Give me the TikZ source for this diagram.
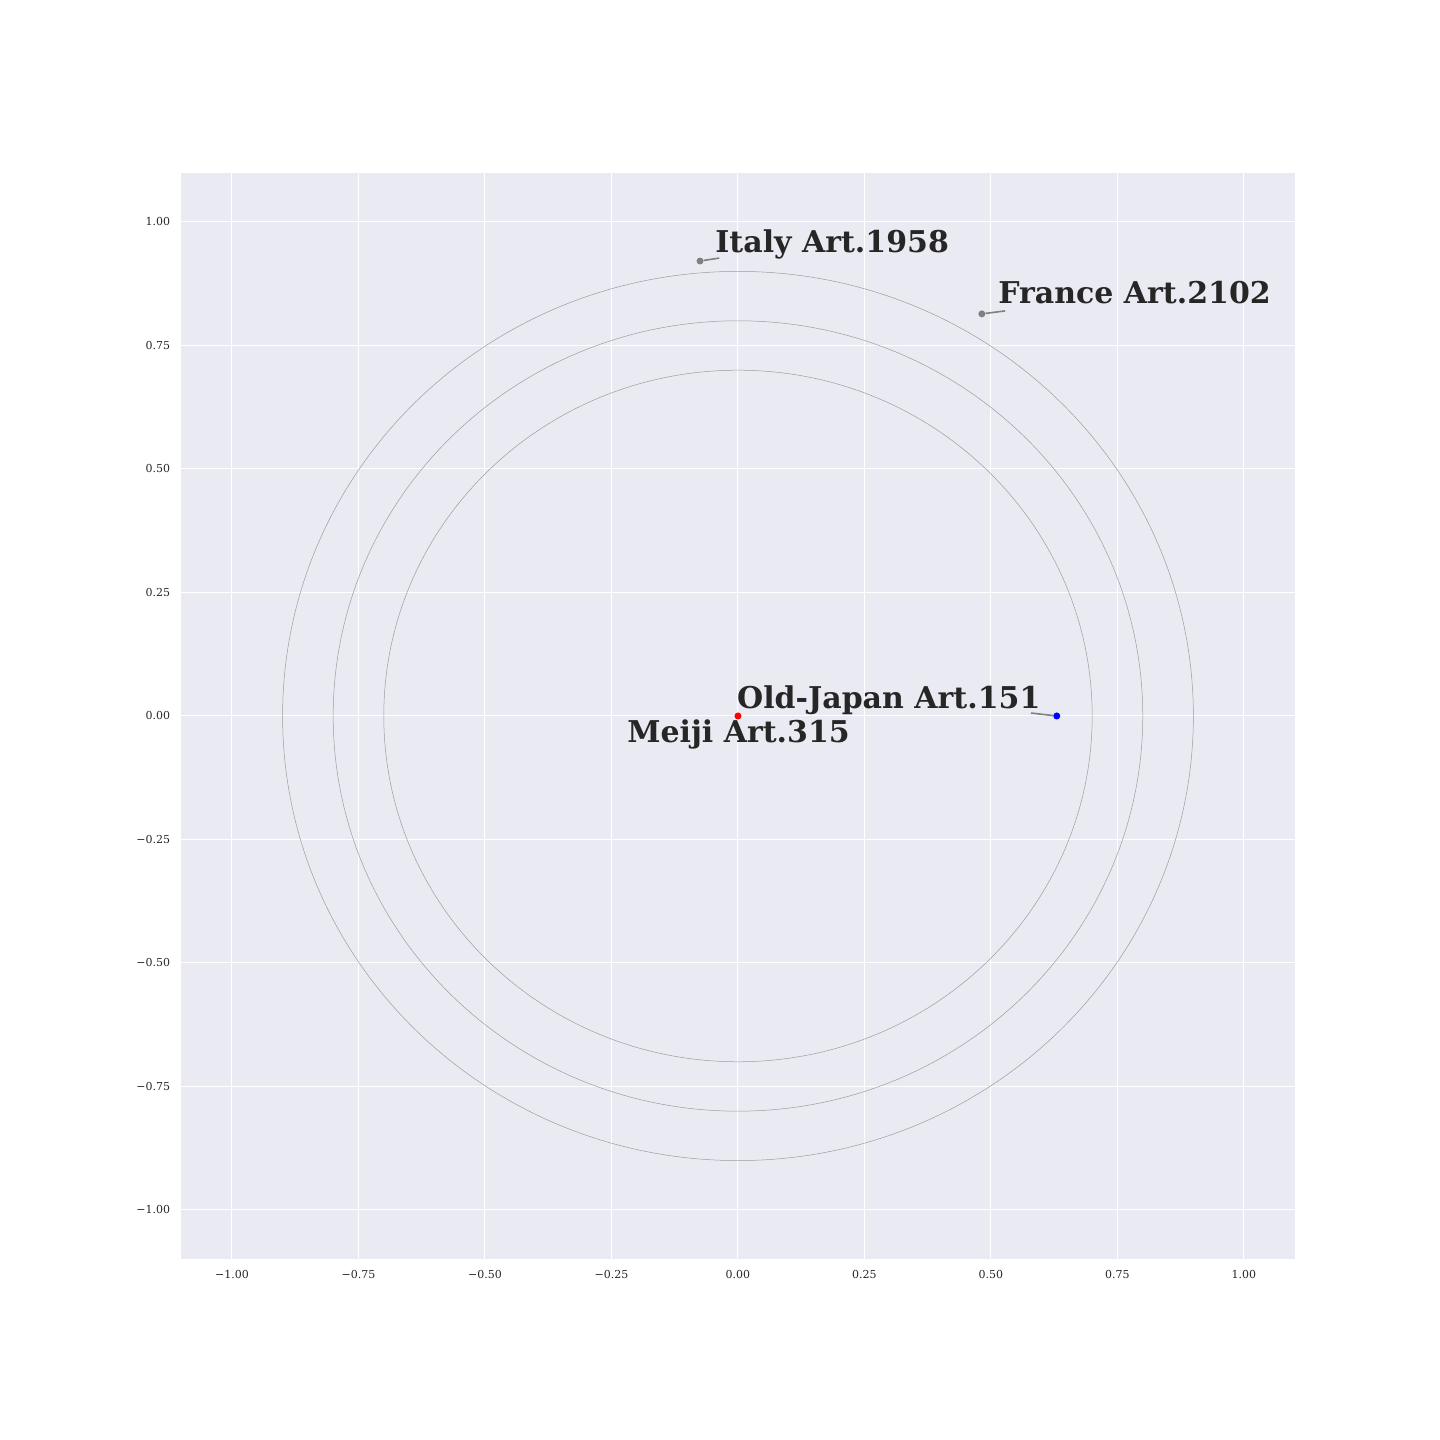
\documentclass[tikz,border=0pt]{standalone}
\usepackage{fontspec}
\setmainfont{DejaVu Serif}
\usetikzlibrary{positioning}
\definecolor{axesbg}{RGB}{234,234,242}
\definecolor{inkgray}{RGB}{38,38,38}
\definecolor{ringgray}{RGB}{128,128,128}
\definecolor{ringline}{RGB}{155,155,160}
\definecolor{meijired}{RGB}{255,0,0}
\definecolor{japanblue}{RGB}{0,0,255}

\begin{document}
\begin{tikzpicture}[x=506pt, y=494pt, every node/.style={text=inkgray, inner sep=0pt},
  ticklabel/.style={font=\fontsize{11}{13}\selectfont},
  artlabel/.style={font=\fontsize{30}{36}\selectfont\bfseries, anchor=base west},
  artdot/.style={circle, minimum size=7pt, fill=#1},
  artlink/.style={draw=ringgray, line width=1.6pt},
  ring/.style={draw=ringline, line width=0.5pt}]
  \useasboundingbox (-1.4585,-1.4656) rectangle (1.3874,1.4494);
  % Axes background and grid
  \fill[axesbg] (-1.1,-1.1) rectangle (1.1,1.1);
  \foreach \t/\lab in {-1/{−1.00}, -0.75/{−0.75}, -0.5/{−0.50}, -0.25/{−0.25}, 0/{0.00},
                       0.25/{0.25}, 0.5/{0.50}, 0.75/{0.75}, 1/{1.00}} {
    \draw[white, line width=1pt] (\t,-1.1) -- (\t,1.1);
    \draw[white, line width=1pt] (-1.1,\t) -- (1.1,\t);
    \node[ticklabel, anchor=north, yshift=-11pt] (xtick \t) at (\t,-1.1) {\lab};
    \node[ticklabel, anchor=east, xshift=-11pt] (ytick \t) at (-1.1,\t) {\lab};
  }
  % Rings
  \foreach \r in {0.7, 0.8, 0.9}
    \draw[ring] (0,0) ellipse [x radius=\r, y radius=\r];
  % Points
  \node[artdot=meijired] (meiji) at (0,0) {};
  \node[artdot=japanblue] (oldjapan) at (0.630,0) {};
  \node[artdot=ringgray] (italy) at (-0.075,0.921) {};
  \node[artdot=ringgray] (france) at (0.482,0.814) {};
  % Labels
  \node[artlabel] (italy label) at (-0.045,0.939) {Italy Art.1958};
  \node[artlabel] (france label) at (0.514,0.834) {France Art.2102};
  \node[artlabel] (oldjapan label) at (-0.002,0.016) {Old-Japan Art.151};
  \node[artlabel] (meiji label) at (-0.219,-0.054) {Meiji Art.315};
  % Leader lines
  \coordinate (italy end) at (-0.037,0.927);
  \coordinate (france end) at (0.528,0.820);
  \coordinate (oldjapan end) at (0.579,0.006);
  \draw[artlink] (italy) -- (italy end);
  \draw[artlink] (france) -- (france end);
  \draw[artlink] (oldjapan) -- (oldjapan end);
\end{tikzpicture}
\end{document}
